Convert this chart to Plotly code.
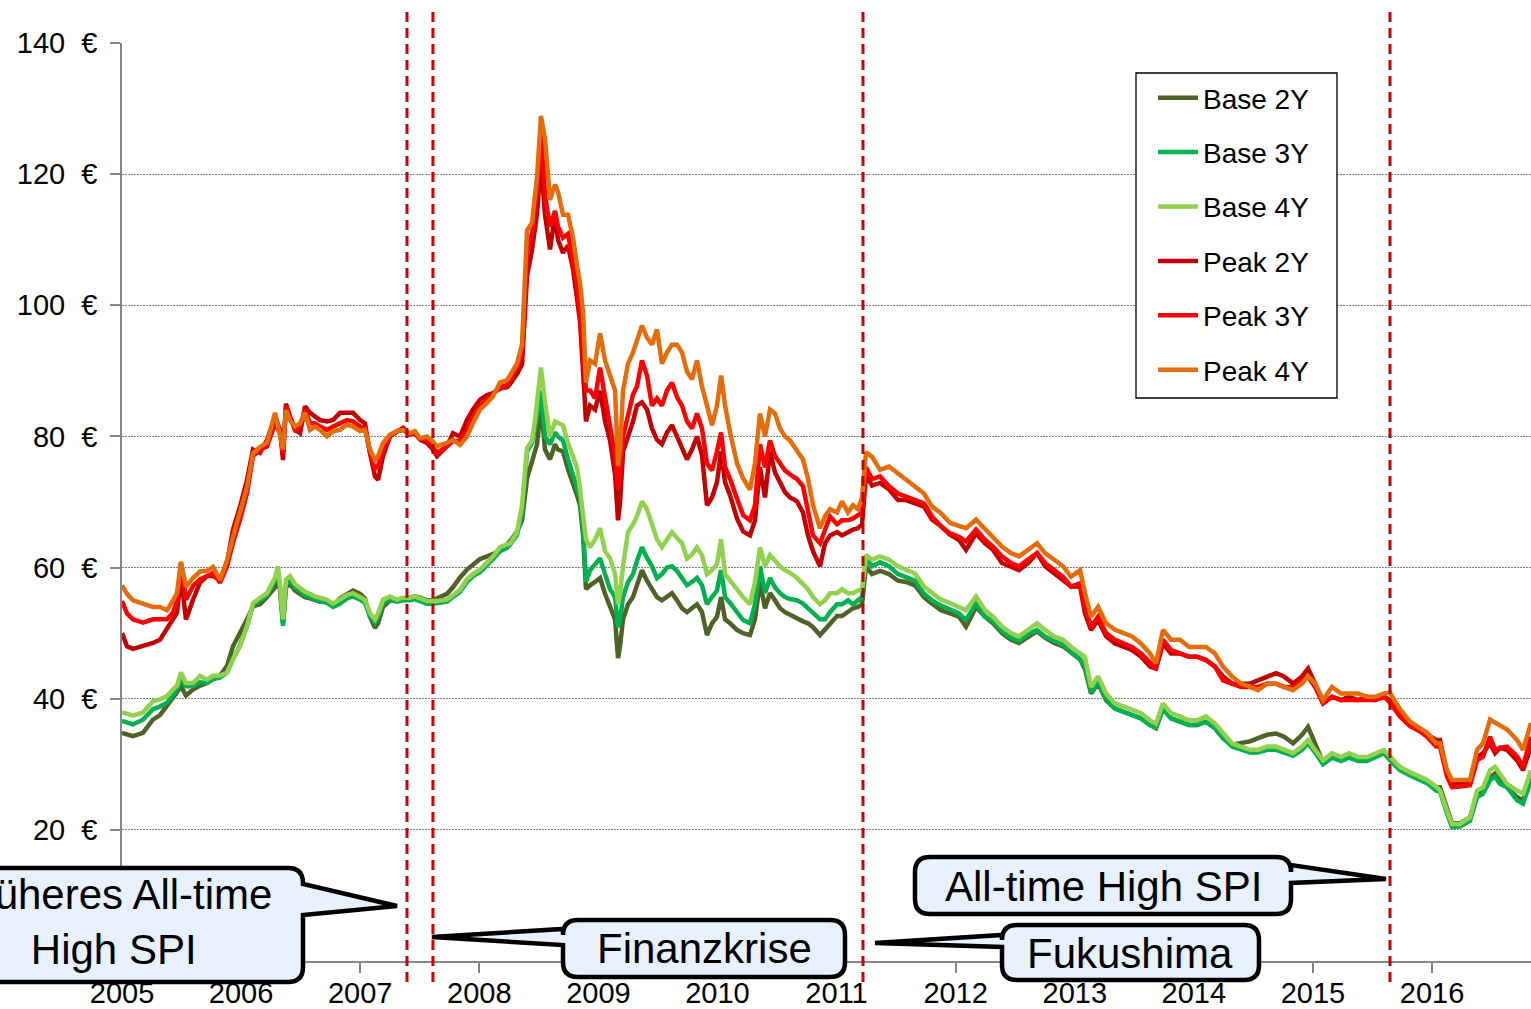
import plotly.graph_objects as go

# ---------------------------------------------------------------- data
# time axis in decimal years
years = [
    2005.000, 2005.042, 2005.092, 2005.176, 2005.260, 2005.319, 2005.378, 2005.428, 2005.462, 2005.495,
    2005.537, 2005.596, 2005.655, 2005.714, 2005.764, 2005.823, 2005.882, 2005.932, 2005.991, 2006.050,
    2006.100, 2006.159, 2006.218, 2006.285, 2006.310, 2006.327, 2006.352, 2006.377, 2006.411, 2006.453,
    2006.495, 2006.537, 2006.579, 2006.621, 2006.663, 2006.721, 2006.772, 2006.831, 2006.889, 2006.940,
    2006.999, 2007.040, 2007.082, 2007.124, 2007.150, 2007.192, 2007.250, 2007.309, 2007.360, 2007.418,
    2007.460, 2007.502, 2007.561, 2007.611, 2007.645, 2007.729, 2007.779, 2007.838, 2007.897, 2007.947,
    2008.006, 2008.065, 2008.115, 2008.174, 2008.233, 2008.258, 2008.317, 2008.359, 2008.401, 2008.443,
    2008.468, 2008.485, 2008.518, 2008.552, 2008.594, 2008.636, 2008.661, 2008.703, 2008.745, 2008.787,
    2008.821, 2008.846, 2008.871, 2008.896, 2008.930, 2008.972, 2009.014, 2009.056, 2009.098, 2009.140,
    2009.165, 2009.182, 2009.207, 2009.249, 2009.291, 2009.324, 2009.366, 2009.408, 2009.450, 2009.492,
    2009.534, 2009.576, 2009.618, 2009.660, 2009.702, 2009.744, 2009.786, 2009.828, 2009.870, 2009.912,
    2009.954, 2009.996, 2010.030, 2010.064, 2010.106, 2010.164, 2010.215, 2010.273, 2010.315, 2010.357,
    2010.399, 2010.441, 2010.483, 2010.525, 2010.567, 2010.609, 2010.668, 2010.718, 2010.760, 2010.802,
    2010.861, 2010.903, 2010.945, 2011.004, 2011.046, 2011.096, 2011.138, 2011.180, 2011.214, 2011.247,
    2011.298, 2011.365, 2011.441, 2011.516, 2011.583, 2011.659, 2011.734, 2011.802, 2011.877, 2011.953,
    2012.028, 2012.087, 2012.171, 2012.247, 2012.314, 2012.389, 2012.465, 2012.532, 2012.608, 2012.683,
    2012.751, 2012.826, 2012.902, 2012.969, 2013.045, 2013.086, 2013.137, 2013.196, 2013.263, 2013.338,
    2013.414, 2013.481, 2013.557, 2013.632, 2013.682, 2013.741, 2013.808, 2013.884, 2013.960, 2014.027,
    2014.102, 2014.178, 2014.245, 2014.321, 2014.396, 2014.472, 2014.539, 2014.615, 2014.690, 2014.757,
    2014.833, 2014.908, 2014.959, 2015.018, 2015.085, 2015.160, 2015.236, 2015.303, 2015.379, 2015.454,
    2015.521, 2015.597, 2015.647, 2015.731, 2015.815, 2015.899, 2015.958, 2016.034, 2016.067, 2016.126,
    2016.168, 2016.235, 2016.319, 2016.378, 2016.428, 2016.487, 2016.529, 2016.571, 2016.630, 2016.714,
    2016.764, 2016.831,
]

base_2y = [
    34.8, 34.5, 34.3, 34.8, 36.8, 37.5, 38.9, 40.0, 41.0, 41.9,
    40.5, 41.4, 42.0, 42.4, 43.0, 43.5, 45.0, 48.0, 50.0, 52.1,
    54.1, 54.4, 55.5, 57.0, 58.0, 56.5, 51.5, 57.0, 57.5, 56.5,
    56.0, 55.5, 55.3, 55.0, 54.8, 54.8, 54.3, 55.3, 56.0, 56.5,
    56.0, 55.3, 52.5, 50.8, 51.5, 54.0, 55.0, 54.9, 55.2, 55.5,
    55.6, 55.4, 55.0, 55.0, 55.3, 56.0, 57.0, 58.5, 59.7, 60.5,
    61.3, 61.7, 62.0, 62.5, 63.5, 64.0, 65.5, 67.2, 73.6, 76.5,
    78.0, 78.8, 84.7, 78.0, 76.5, 78.8, 78.0, 77.7, 75.0, 73.0,
    71.0, 69.5, 65.0, 56.7, 57.3, 57.8, 58.4, 56.0, 53.8, 52.1,
    46.2, 48.0, 52.1, 54.4, 55.5, 57.5, 59.6, 58.0, 56.7, 55.5,
    55.0, 55.5, 56.1, 55.0, 53.8, 53.2, 53.8, 54.4, 53.2, 49.7,
    51.5, 52.5, 55.5, 52.1, 51.5, 50.5, 50.0, 49.7, 52.1, 57.8,
    53.8, 56.1, 55.0, 53.8, 53.2, 52.8, 52.1, 51.8, 51.5, 50.9,
    49.7, 50.5, 51.5, 52.6, 52.6, 53.2, 53.8, 54.0, 54.4, 60.2,
    59.0, 59.5, 59.0, 58.0, 57.8, 57.3, 55.5, 54.5, 53.5, 53.0,
    52.5, 51.0, 54.0, 52.5, 51.5, 50.0, 49.0, 48.5, 49.5, 50.3,
    49.3, 48.5, 48.0, 47.0, 46.0, 44.5, 40.8, 42.3, 39.8, 38.5,
    38.0, 37.5, 37.0, 36.0, 35.5, 38.5, 37.0, 36.5, 36.0, 36.0,
    36.5, 35.5, 34.0, 33.0, 33.2, 33.5, 34.0, 34.5, 34.7, 34.2,
    33.2, 34.5, 35.7, 33.0, 30.3, 31.2, 30.6, 31.2, 30.6, 30.7,
    31.2, 31.8, 30.8, 29.3, 28.5, 27.8, 27.3, 26.5, 26.5, 23.0,
    21.0, 21.0, 21.9, 25.5, 26.0, 28.0, 28.6, 27.5, 26.5, 25.0,
    24.5, 28.0,
]

base_3y = [
    36.6, 36.3, 36.1, 36.8, 38.4, 38.8, 39.4, 40.5, 41.5, 42.9,
    41.9, 41.9, 42.5, 42.4, 43.0, 43.2, 44.0, 46.0, 48.2, 51.1,
    54.3, 55.0, 55.8, 58.0, 59.0, 57.0, 51.1, 57.5, 58.0, 57.0,
    56.3, 55.8, 55.5, 55.1, 54.9, 54.6, 54.0, 54.5, 55.3, 55.6,
    55.1, 54.6, 52.6, 51.6, 52.5, 54.6, 55.1, 54.8, 55.0, 55.0,
    55.2, 54.9, 54.5, 54.5, 54.6, 54.8, 55.5, 56.3, 57.8, 58.7,
    59.3, 60.3, 61.3, 62.5, 63.0, 63.5, 65.0, 68.4, 77.7, 79.0,
    81.0, 82.9, 87.0, 80.0, 78.8, 80.6, 80.0, 79.4, 76.5, 74.2,
    72.0, 70.7, 66.5, 57.8, 59.6, 60.5, 61.4, 59.0, 56.7, 55.5,
    50.9, 52.0, 55.5, 57.8, 59.0, 61.0, 63.1, 61.5, 60.2, 58.4,
    59.0, 60.0, 60.2, 59.5, 58.4, 57.3, 57.8, 58.4, 57.3, 54.4,
    55.5, 56.5, 59.6, 55.5, 54.6, 53.2, 52.0, 51.5, 54.4, 60.2,
    56.1, 58.4, 57.0, 56.1, 55.5, 55.2, 55.0, 54.5, 53.8, 53.0,
    52.1, 52.1, 53.2, 54.4, 54.4, 55.0, 54.4, 55.0, 55.5, 61.4,
    60.2, 60.8, 60.2, 59.0, 58.5, 58.0, 56.0, 55.0, 54.2, 53.6,
    53.0, 52.0, 54.5, 52.5, 51.8, 50.3, 49.3, 48.8, 49.8, 50.5,
    49.5, 48.8, 48.3, 47.2, 46.0, 45.0, 41.0, 42.5, 40.0, 38.5,
    38.0, 37.6, 37.0, 36.0, 35.6, 38.5, 37.0, 36.5, 36.0, 36.0,
    36.5, 35.5, 34.0, 32.7, 32.2, 31.8, 31.8, 32.2, 32.2, 31.8,
    31.3, 32.2, 33.2, 31.8, 30.0, 31.0, 30.5, 31.0, 30.5, 30.5,
    31.0, 31.7, 30.6, 29.1, 28.3, 27.6, 27.1, 26.0, 25.8, 22.5,
    20.4, 20.5, 21.4, 25.0, 25.5, 27.6, 28.1, 27.0, 26.5, 24.5,
    24.0, 27.6,
]

base_4y = [
    37.9, 37.6, 37.4, 37.9, 39.6, 39.9, 40.4, 41.4, 42.0, 44.0,
    42.4, 42.4, 43.5, 42.9, 43.5, 43.5, 44.0, 46.0, 48.0, 51.1,
    54.6, 55.4, 56.1, 58.5, 60.2, 57.2, 52.1, 58.2, 58.7, 57.5,
    56.8, 56.3, 56.0, 55.6, 55.4, 55.1, 54.5, 55.1, 55.8, 56.1,
    55.6, 55.1, 53.1, 52.1, 53.0, 55.1, 55.6, 55.1, 55.4, 55.4,
    55.6, 55.3, 54.9, 54.9, 54.9, 55.1, 55.8, 56.6, 58.2, 59.0,
    59.7, 60.7, 61.7, 63.1, 63.4, 63.7, 65.4, 69.5, 78.2, 79.4,
    82.5, 85.8, 90.5, 85.2, 80.0, 82.3, 82.0, 81.7, 79.0, 77.1,
    75.3, 71.9, 68.0, 64.3, 63.1, 64.3, 66.0, 62.5, 61.4, 59.0,
    54.4, 56.0, 60.2, 65.4, 66.6, 67.8, 70.1, 68.9, 66.6, 64.3,
    63.1, 64.3, 65.4, 64.5, 63.7, 61.4, 62.0, 63.1, 61.9, 59.0,
    59.6, 60.5, 64.3, 59.0, 58.0, 56.5, 55.5, 54.4, 57.8, 63.1,
    60.2, 61.9, 61.0, 60.2, 59.6, 59.2, 58.4, 57.5, 56.7, 55.5,
    54.4, 55.0, 56.1, 56.1, 56.7, 56.1, 56.1, 56.5, 56.7, 61.9,
    61.2, 61.7, 61.2, 60.2, 59.6, 59.1, 57.1, 56.1, 55.1, 54.6,
    54.0, 53.5, 55.6, 53.5, 52.5, 51.0, 50.0, 49.5, 50.5, 51.5,
    50.5, 49.5, 49.0, 47.9, 46.9, 46.4, 41.8, 43.4, 40.8, 39.3,
    38.8, 38.3, 37.8, 36.7, 36.2, 39.3, 37.8, 37.3, 36.7, 36.7,
    37.3, 36.2, 34.7, 33.2, 32.7, 32.2, 32.2, 32.7, 32.7, 32.2,
    31.7, 32.7, 33.7, 32.2, 30.6, 31.7, 31.1, 31.7, 31.1, 31.1,
    31.7, 32.2, 31.2, 29.6, 28.8, 28.1, 27.6, 26.6, 26.0, 22.9,
    20.9, 20.9, 21.9, 26.0, 26.5, 29.1, 29.6, 28.5, 27.0, 26.0,
    25.5, 29.1,
]

peak_2y = [
    50.0, 48.0, 47.6, 48.0, 48.5, 49.0, 50.6, 52.0, 53.1, 58.7,
    52.1, 55.1, 57.7, 58.7, 58.7, 58.2, 60.7, 65.8, 69.3, 73.4,
    78.0, 77.5, 79.5, 83.0, 81.5, 81.0, 76.4, 85.0, 83.0, 81.0,
    80.5, 84.6, 83.6, 83.0, 82.5, 82.3, 82.5, 83.6, 83.6, 83.6,
    82.5, 82.0, 77.5, 73.9, 73.4, 77.0, 80.0, 80.8, 81.3, 80.3,
    80.5, 79.5, 79.0, 78.0, 77.0, 78.5, 80.5, 80.0, 82.5, 84.1,
    85.6, 86.3, 86.6, 87.3, 87.5, 88.0, 89.5, 91.0, 104.5, 108.5,
    111.5, 114.0, 121.9, 113.8, 108.5, 113.8, 110.0, 108.0, 109.1, 105.5,
    101.0, 97.5, 90.0, 82.3, 84.7, 84.1, 87.0, 82.3, 79.4, 74.2,
    67.2, 70.0, 77.7, 80.0, 82.3, 84.7, 85.2, 84.1, 81.2, 79.5,
    78.8, 80.6, 81.7, 80.0, 78.2, 76.5, 78.0, 80.0, 77.1, 69.5,
    70.7, 73.0, 77.7, 73.0, 71.0, 67.5, 65.5, 64.9, 67.2, 75.3,
    70.7, 77.7, 74.5, 73.0, 71.5, 70.7, 70.1, 68.4, 64.9, 62.5,
    60.2, 63.7, 64.9, 65.4, 64.9, 65.4, 65.8, 66.0, 66.6, 74.2,
    72.5, 72.9, 71.9, 70.3, 70.3, 69.8, 69.3, 67.3, 66.3, 65.0,
    64.2, 62.7, 65.2, 63.7, 62.7, 60.7, 60.2, 59.6, 60.7, 62.2,
    60.2, 59.1, 58.1, 57.1, 57.1, 53.0, 50.5, 52.0, 49.5, 48.4,
    47.9, 47.4, 46.4, 44.9, 44.6, 48.4, 46.9, 46.9, 46.4, 46.4,
    45.9, 44.9, 43.4, 42.3, 42.3, 42.3, 42.8, 43.4, 43.9, 43.4,
    42.3, 43.4, 44.6, 42.3, 39.3, 40.3, 39.8, 40.3, 39.8, 40.3,
    39.8, 40.3, 39.8, 37.8, 36.2, 35.2, 34.5, 33.7, 33.7, 28.6,
    27.1, 27.1, 27.4, 31.1, 31.7, 33.2, 31.7, 32.5, 32.2, 30.6,
    29.1, 32.7,
]

peak_3y = [
    54.9, 53.0, 52.1, 51.6, 52.1, 52.1, 52.1, 53.1, 55.0, 60.7,
    55.1, 57.2, 58.2, 58.7, 59.2, 57.7, 60.2, 63.8, 67.3, 71.4,
    77.0, 78.0, 78.5, 82.0, 81.0, 80.5, 77.5, 84.5, 83.0, 81.0,
    81.5, 84.0, 82.0, 82.0, 81.5, 81.0, 81.5, 82.0, 82.5, 82.3,
    81.5, 81.3, 77.5, 75.0, 75.5, 78.0, 80.0, 80.8, 81.0, 80.3,
    80.5, 79.7, 79.5, 78.5, 77.5, 78.5, 79.3, 79.3, 81.0, 82.8,
    84.6, 85.6, 86.5, 87.5, 87.8, 88.5, 90.5, 92.5, 108.0, 111.0,
    114.5, 117.8, 126.6, 116.7, 112.0, 114.4, 112.0, 110.3, 110.9, 107.0,
    103.0, 98.6, 93.0, 87.0, 87.0, 85.8, 90.5, 85.8, 81.7, 77.1,
    72.0, 74.0, 80.0, 83.5, 86.4, 87.6, 91.6, 89.3, 84.7, 85.8,
    84.7, 87.0, 88.2, 86.0, 84.7, 82.3, 81.2, 83.5, 81.2, 75.9,
    74.8, 77.7, 80.6, 75.3, 73.5, 70.5, 68.0, 67.2, 69.5, 78.8,
    75.3, 79.4, 77.0, 75.9, 74.8, 74.2, 73.5, 72.4, 68.4, 64.9,
    63.7, 66.0, 67.8, 66.6, 67.2, 67.2, 67.5, 68.0, 68.4, 75.3,
    73.5, 73.9, 72.4, 71.3, 70.8, 70.3, 69.8, 67.8, 66.3, 65.2,
    64.7, 64.0, 65.8, 64.2, 63.2, 61.7, 60.7, 60.2, 61.2, 62.2,
    60.7, 59.6, 58.6, 57.1, 57.6, 54.0, 51.0, 52.5, 50.0, 49.0,
    48.4, 47.9, 46.9, 45.4, 44.6, 49.0, 47.4, 46.9, 46.4, 46.4,
    45.9, 44.9, 42.8, 42.3, 41.8, 41.8, 41.8, 42.3, 42.3, 41.8,
    41.8, 42.8, 43.4, 41.8, 39.3, 40.3, 39.8, 39.8, 39.8, 39.8,
    39.8, 40.3, 39.4, 37.3, 35.8, 35.0, 34.2, 32.7, 32.7, 28.1,
    26.5, 26.6, 26.8, 30.6, 31.2, 34.2, 32.2, 32.5, 32.7, 31.2,
    29.6, 34.2,
]

peak_4y = [
    57.3, 56.0, 55.0, 54.5, 54.0, 54.0, 53.5, 55.0, 56.1, 60.9,
    57.1, 58.4, 59.4, 59.5, 60.1, 58.1, 61.1, 64.7, 68.8, 72.3,
    77.4, 78.4, 79.1, 83.6, 81.5, 80.0, 78.0, 84.0, 82.5, 81.5,
    82.0, 83.6, 81.0, 81.5, 81.0, 80.0, 80.8, 81.0, 81.8, 81.5,
    80.8, 81.0, 78.0, 76.4, 77.0, 79.0, 80.3, 80.8, 81.0, 80.5,
    80.8, 79.7, 80.0, 79.2, 78.5, 79.0, 79.5, 78.7, 80.0, 82.0,
    84.1, 85.1, 86.1, 88.2, 88.6, 89.3, 91.1, 94.0, 111.4, 112.6,
    116.0, 119.6, 128.9, 125.4, 116.1, 118.4, 117.3, 113.8, 113.8, 110.3,
    106.0, 103.3, 99.0, 88.2, 91.6, 91.1, 95.7, 91.6, 89.3, 87.0,
    75.5, 78.0, 87.0, 91.1, 92.8, 94.6, 96.9, 95.1, 94.0, 96.3,
    91.1, 92.8, 94.0, 94.0, 92.8, 89.9, 88.7, 91.6, 87.6, 84.7,
    81.7, 84.7, 89.3, 84.7, 80.6, 75.9, 73.6, 71.9, 75.9, 83.5,
    80.0, 84.1, 83.5, 81.2, 80.0, 79.4, 77.7, 76.5, 73.6, 69.5,
    66.0, 67.8, 68.9, 68.4, 70.1, 68.4, 69.5, 68.9, 70.7, 77.6,
    76.9, 74.9, 75.4, 74.4, 73.4, 72.4, 71.3, 69.3, 68.3, 66.8,
    66.3, 66.0, 67.3, 65.8, 64.7, 63.2, 62.2, 61.7, 62.7, 63.7,
    62.2, 61.2, 60.2, 58.6, 59.6, 56.1, 52.5, 54.0, 51.5, 50.5,
    50.0, 49.5, 48.4, 46.9, 45.4, 50.5, 49.0, 49.0, 47.9, 47.9,
    47.9, 46.9, 44.9, 43.4, 42.3, 41.8, 41.3, 42.3, 42.3, 41.8,
    41.3, 42.3, 43.4, 42.3, 39.8, 41.8, 40.8, 40.8, 40.8, 40.3,
    40.3, 40.8, 40.9, 38.4, 36.5, 35.5, 34.8, 33.2, 33.2, 29.1,
    27.6, 27.6, 27.6, 32.2, 33.2, 36.8, 36.3, 36.0, 35.3, 33.7,
    32.2, 36.3,
]

series_names = ["Base 2Y", "Base 3Y", "Base 4Y", "Peak 2Y", "Peak 3Y", "Peak 4Y"]
series_values = [base_2y, base_3y, base_4y, peak_2y, peak_3y, peak_4y]
series_colors = ["#4F6228", "#00B050", "#92D050", "#C00000", "#FF0000", "#E46C0A"]

y_ticks = [20, 40, 60, 80, 100, 120, 140]
x_ticks = list(range(2005, 2017))

# market events marked with dashed lines
event_dates = [2007.393, 2007.611, 2011.222, 2015.647]

for vals in series_values:
    if len(vals) != len(years):
        raise ValueError("series length mismatch")

# ---------------------------------------------------------------- geometry
W, H = 1531, 1009
ML, MR, MT, MB = 122, 0, 43, 48
PW, PH = W - ML - MR, H - MT - MB
X0, X1 = 2005.0, 2016.831
FONT = "Arial, Liberation Sans, sans-serif"


def fx(px):
    return (px - ML) / PW


def fy(py):
    return (H - MB - py) / PH


def year_px(yr):
    return ML + (yr - X0) / (X1 - X0) * PW


def callout_path(x0, y0, x1, y1, r, side, wa, wb, tip):
    pts = []

    def P(cmd, *xy):
        coords = []
        for i in range(0, len(xy), 2):
            coords.append(f"{fx(xy[i]):.5f},{fy(xy[i + 1]):.5f}")
        pts.append(cmd + " " + " ".join(coords))

    P("M", x0 + r, y0)
    P("L", x1 - r, y0)
    P("Q", x1, y0, x1, y0 + r)
    if side == "right":
        P("L", x1, wa)
        P("L", tip[0], tip[1])
        P("L", x1, wb)
    P("L", x1, y1 - r)
    P("Q", x1, y1, x1 - r, y1)
    P("L", x0 + r, y1)
    P("Q", x0, y1, x0, y1 - r)
    if side == "left":
        P("L", x0, wb)
        P("L", tip[0], tip[1])
        P("L", x0, wa)
    P("L", x0, y0 + r)
    P("Q", x0, y0, x0 + r, y0)
    return " ".join(pts) + " Z"


# ---------------------------------------------------------------- figure
fig = go.Figure()
for name, vals, color in zip(series_names, series_values, series_colors):
    fig.add_trace(go.Scatter(
        x=years, y=vals, name=name, mode="lines",
        line=dict(color=color, width=4.5),
        legendgroup=name,
    ))

shapes = []
for d in event_dates:
    shapes.append(dict(
        type="line", xref="x", yref="paper", x0=d, x1=d,
        y0=fy(982), y1=fy(11),
        line=dict(color="#C00000", width=3, dash="10px,6px"),
        layer="above",
    ))

# legend frame
shapes.append(dict(
    type="rect", xref="paper", yref="paper",
    x0=fx(1136), x1=fx(1337), y0=fy(398), y1=fy(73),
    line=dict(color="black", width=1.3), fillcolor="white", layer="above",
))

callouts = [
    dict(text="Früheres All-time<br>High SPI", box=(-80, 868, 303, 982), side="right",
         wedge=(884, 915), tip=(year_px(event_dates[0]) - 10, 906), center=(113, 922)),
    dict(text="Finanzkrise", box=(563, 920, 845, 977), side="left",
         wedge=(929, 945), tip=(year_px(event_dates[1]) - 1, 937), center=(704, 948)),
    dict(text="All-time High SPI", box=(915, 857, 1291, 914), side="right",
         wedge=(865, 883), tip=(year_px(event_dates[3]) - 4, 879), center=(1103, 886)),
    dict(text="Fukushima", box=(1002, 925, 1259, 980), side="left",
         wedge=(935, 947), tip=(year_px(event_dates[2]) + 12, 943), center=(1130, 953)),
]

annotations = []
for c in callouts:
    x0, y0, x1, y1 = c["box"]
    shapes.append(dict(
        type="path", xref="paper", yref="paper",
        path=callout_path(x0, y0, x1, y1, 15, c["side"], c["wedge"][0], c["wedge"][1], c["tip"]),
        fillcolor="#E8F1FF", line=dict(color="black", width=4.5), layer="above",
    ))
    annotations.append(dict(
        text=c["text"], xref="paper", yref="paper",
        x=fx(c["center"][0]), y=fy(c["center"][1]),
        xanchor="center", yanchor="middle", showarrow=False,
        font=dict(family=FONT, size=42, color="black"),
    ))

fig.update_layout(
    width=W, height=H,
    margin=dict(l=ML, r=MR, t=MT, b=MB, pad=0, autoexpand=False),
    paper_bgcolor="white", plot_bgcolor="white",
    font=dict(family=FONT, size=29, color="black"),
    showlegend=True,
    legend=dict(
        x=fx(1153), y=fy(73), xanchor="left", yanchor="top",
        bgcolor="rgba(0,0,0,0)", borderwidth=0,
        font=dict(family=FONT, size=28, color="black"),
        tracegroupgap=15, itemwidth=40,
    ),
    shapes=shapes,
    annotations=annotations,
)

fig.update_xaxes(
    range=[X0, X1], tickvals=x_ticks, ticktext=[str(v) for v in x_ticks],
    showline=True, linecolor="#868686", linewidth=1.5,
    ticks="outside", ticklen=10, tickwidth=1.5, tickcolor="#868686",
    showgrid=False, zeroline=False, ticklabelstandoff=-5, automargin=False,
    tickfont=dict(family=FONT, size=29, color="black"),
)
fig.update_yaxes(
    range=[0, 140], tickvals=y_ticks, ticktext=[f"{v}\u00a0 €" for v in y_ticks],
    showline=True, linecolor="#868686", linewidth=1.5,
    ticks="outside", ticklen=10, tickwidth=1.5, tickcolor="#868686",
    showgrid=True, gridcolor="#7F7F7F", gridwidth=1.3, griddash="2px,1px",
    zeroline=False, ticklabelstandoff=7, automargin=False,
    tickfont=dict(family=FONT, size=29, color="black"),
)

fig.write_html("out.html")
